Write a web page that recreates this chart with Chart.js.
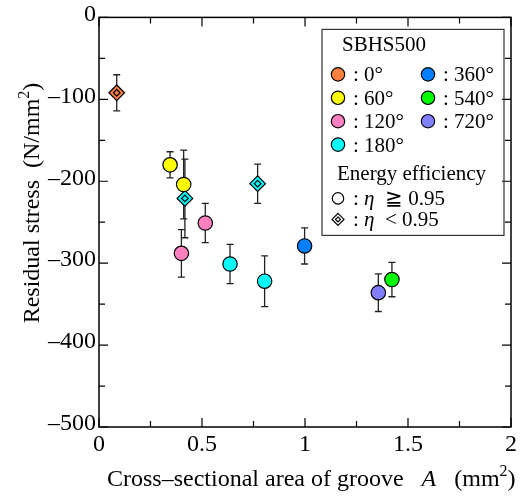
<!DOCTYPE html>
<html>
<head>
<meta charset="utf-8">
<script src="https://cdn.jsdelivr.net/npm/chart.js@4.4.1/dist/chart.umd.min.js"></script>
<style>
  html, body { margin: 0; padding: 0; background: #fff; }
  #boite { width: 526px; height: 497px; }
</style>
</head>
<body>
<div id="boite"><canvas id="graphique"></canvas></div>
<script>
// angles (legend) and their colours
const angleLabels = ['0°', '60°', '120°', '180°', '360°', '540°', '720°'];
const angleColors = ['#ff7f3f', '#ffff00', '#ff80c0', '#00ffff', '#0080ff', '#00ff00', '#8080ff'];

// one entry per specimen
const grooveArea     = [0.086, 0.345, 0.411, 0.400, 0.516, 0.636, 0.804, 0.417, 0.770, 0.998, 1.422, 1.356];
const residualStress = [-92, -180, -204, -288, -251, -301, -322, -221, -203, -279, -320, -336];
const stressError    = [22, 16, 42, 29, 24, 24, 31, 48, 24, 22, 21, 23];
const angleIndex     = [0, 1, 1, 2, 2, 3, 3, 3, 3, 4, 5, 6];
const lowEfficiency  = [true, false, false, false, false, false, false, true, true, false, false, false];

const SERIF = 'Liberation Serif';

// construire les datasets (un par angle) + petits losanges intérieurs
function construireDatasets() {
    const sets = [];
    angleLabels.forEach((lab, a) => {
        const pts = [];
        const styles = [];
        const radii = [];
        grooveArea.forEach((x, i) => {
            if (angleIndex[i] === a) {
                pts.push({ x: x, y: residualStress[i] });
                styles.push(lowEfficiency[i] ? 'rectRot' : 'circle');
                radii.push(lowEfficiency[i] ? 7.8 : 7.2);
            }
        });
        sets.push({
            label: lab,
            data: pts,
            pointStyle: styles,
            pointRadius: radii,
            pointBackgroundColor: angleColors[a],
            pointBorderColor: '#000',
            pointBorderWidth: 1.2,
            showLine: false,
            order: 1
        });
    });
    // losange intérieur pour eta < 0.95 (dessiné par-dessus)
    const inner = [];
    const innerCol = [];
    grooveArea.forEach((x, i) => {
        if (lowEfficiency[i]) {
            inner.push({ x: x, y: residualStress[i] });
            innerCol.push(angleColors[angleIndex[i]]);
        }
    });
    sets.push({
        label: 'inner',
        data: inner,
        pointStyle: 'rectRot',
        pointRadius: 3.3,
        pointBackgroundColor: innerCol,
        pointBorderColor: '#000',
        pointBorderWidth: 1.2,
        showLine: false,
        order: -1
    });
    return sets;
}

// barres d'erreur, dessinées sous les marqueurs
const errorBars = {
    id: 'errorBars',
    beforeDatasetsDraw(chart) {
        const ctx = chart.ctx;
        const xs = chart.scales.x, ys = chart.scales.y;
        ctx.save();
        ctx.strokeStyle = '#222';
        ctx.lineWidth = 1.3;
        grooveArea.forEach((x, i) => {
            const px = xs.getPixelForValue(x);
            const top = ys.getPixelForValue(residualStress[i] + stressError[i]);
            const bot = ys.getPixelForValue(residualStress[i] - stressError[i]);
            ctx.beginPath();
            ctx.moveTo(px, top); ctx.lineTo(px, bot);
            ctx.moveTo(px - 3.5, top); ctx.lineTo(px + 3.5, top);
            ctx.moveTo(px - 3.5, bot); ctx.lineTo(px + 3.5, bot);
            ctx.stroke();
        });
        ctx.restore();
    }
};

// cadre + graduations vers l'intérieur sur les 4 côtés
const cadre = {
    id: 'cadre',
    afterDatasetsDraw(chart) {
        const ctx = chart.ctx;
        const a = chart.chartArea;
        const xs = chart.scales.x, ys = chart.scales.y;
        ctx.save();
        ctx.strokeStyle = '#000';
        ctx.lineWidth = 1.5;
        ctx.strokeRect(a.left, a.top, a.right - a.left, a.bottom - a.top);
        ctx.lineWidth = 1.2;
        ctx.beginPath();
        const xv = xs.ticks.map(t => t.value);
        xv.forEach((v, k) => {
            const p = xs.getPixelForValue(v);
            ctx.moveTo(p, a.bottom); ctx.lineTo(p, a.bottom - 9);
            ctx.moveTo(p, a.top); ctx.lineTo(p, a.top + 9);
            if (k < xv.length - 1) {
                const m = xs.getPixelForValue((v + xv[k + 1]) / 2);
                ctx.moveTo(m, a.bottom); ctx.lineTo(m, a.bottom - 6);
                ctx.moveTo(m, a.top); ctx.lineTo(m, a.top + 6);
            }
        });
        const yv = ys.ticks.map(t => t.value);
        yv.forEach((v, k) => {
            const p = ys.getPixelForValue(v);
            ctx.moveTo(a.left, p); ctx.lineTo(a.left + 9, p);
            ctx.moveTo(a.right, p); ctx.lineTo(a.right - 9, p);
            if (k < yv.length - 1) {
                const m = ys.getPixelForValue((v + yv[k + 1]) / 2);
                ctx.moveTo(a.left, m); ctx.lineTo(a.left + 6, m);
                ctx.moveTo(a.right, m); ctx.lineTo(a.right - 6, m);
            }
        });
        ctx.stroke();
        ctx.restore();
    }
};

// écrire une suite de morceaux de texte (police différente possible)
function ecrireMorceaux(ctx, morceaux, x, y) {
    morceaux.forEach(m => {
        ctx.font = m.font;
        ctx.fillText(m.t, x, y + (m.dy || 0));
        x += ctx.measureText(m.t).width;
    });
    return x;
}

function largeur(ctx, morceaux) {
    let w = 0;
    morceaux.forEach(m => { ctx.font = m.font; w += ctx.measureText(m.t).width; });
    return w;
}

// titres des axes + légende
const titresEtLegende = {
    id: 'titresEtLegende',
    afterDraw(chart) {
        const ctx = chart.ctx;
        const a = chart.chartArea;
        const f = '24px "' + SERIF + '"';
        const fi = 'italic 24px "' + SERIF + '"';
        const fs = '16px "' + SERIF + '"';
        ctx.save();
        ctx.fillStyle = '#000';
        ctx.textBaseline = 'alphabetic';
        ctx.textAlign = 'left';

        // titre axe x
        ecrireMorceaux(ctx, [
            { t: 'Cross–sectional area of groove   ', font: f },
            { t: 'A', font: fi },
            { t: '   (mm', font: f },
            { t: '2', font: fs, dy: -10 },
            { t: ')', font: f }
        ], 107, 486);

        // titre axe y
        const ty = [
            { t: 'Residual stress  (N/mm', font: f },
            { t: '2', font: fs, dy: -10 },
            { t: ')', font: f }
        ];
        const wy = largeur(ctx, ty);
        ctx.save();
        ctx.translate(39, 203 + wy / 2);
        ctx.rotate(-Math.PI / 2);
        ecrireMorceaux(ctx, ty, 0, 0);
        ctx.restore();

        // légende
        const bx = a.right - 189, by = a.top + 12;
        ctx.strokeStyle = '#333';
        ctx.lineWidth = 1.2;
        ctx.strokeRect(bx, by, 182, 206);
        const lf = '21px "' + SERIF + '"';
        const lfi = 'italic 21px "' + SERIF + '"';
        ctx.font = lf;
        ctx.fillText('SBHS500', bx + 20, by + 22);

        angleLabels.forEach((lab, i) => {
            const col = i < 4 ? 0 : 1;
            const row = i < 4 ? i : i - 4;
            const cx = bx + 16 + col * 90;
            const cy = by + 45 + row * 23.4;
            ctx.beginPath();
            ctx.arc(cx, cy, 6.7, 0, Math.PI * 2);
            ctx.fillStyle = angleColors[i];
            ctx.fill();
            ctx.strokeStyle = '#000';
            ctx.stroke();
            ctx.fillStyle = '#000';
            ctx.font = lf;
            ctx.fillText(': ' + lab, cx + 15, cy + 7);
        });

        ctx.font = lf;
        ctx.fillText('Energy efficiency', bx + 15, by + 151);

        // cercle vide
        let cy = by + 169;
        ctx.beginPath();
        ctx.arc(bx + 16, cy, 5.7, 0, Math.PI * 2);
        ctx.strokeStyle = '#000';
        ctx.stroke();
        ecrireMorceaux(ctx, [
            { t: ': ', font: lf }, { t: 'η', font: lfi }, { t: '  ≧ 0.95', font: lf }
        ], bx + 31, cy + 7);

        // losange double
        cy = by + 190;
        [6, 2.5].forEach(r => {
            ctx.beginPath();
            ctx.moveTo(bx + 16, cy - r);
            ctx.lineTo(bx + 16 + r, cy);
            ctx.lineTo(bx + 16, cy + r);
            ctx.lineTo(bx + 16 - r, cy);
            ctx.closePath();
            ctx.stroke();
        });
        ecrireMorceaux(ctx, [
            { t: ': ', font: lf }, { t: 'η', font: lfi }, { t: '  < 0.95', font: lf }
        ], bx + 31, cy + 7);

        ctx.restore();
    }
};

const canvas = document.getElementById('graphique');
const myChart = new Chart(canvas.getContext('2d'), {
    type: 'scatter',
    data: { datasets: construireDatasets() },
    options: {
        responsive: true,
        maintainAspectRatio: false,
        animation: false,
        layout: { padding: { top: 12, right: 15, left: 0, bottom: 0 } },
        plugins: {
            legend: { display: false },
            tooltip: { enabled: false }
        },
        scales: {
            x: {
                type: 'linear', min: 0, max: 2,
                grid: { display: false, drawTicks: false },
                border: { display: false },
                ticks: {
                    stepSize: 0.5, color: '#000', padding: 3, maxRotation: 0,
                    font: { family: '"Liberation Serif"', size: 24 },
                    callback: v => String(v)
                },
                afterFit: s => { s.height = 70; }
            },
            y: {
                type: 'linear', min: -500, max: 0,
                grid: { display: false, drawTicks: false },
                border: { display: false },
                ticks: {
                    stepSize: 100, color: '#000', padding: 3, labelOffset: -3,
                    font: { family: '"Liberation Serif"', size: 24 },
                    callback: v => (v < 0 ? '–' + (-v) : String(v))
                },
                afterFit: s => { s.width = 99; }
            }
        }
    },
    plugins: [errorBars, cadre, titresEtLegende]
});
</script>
</body>
</html>
